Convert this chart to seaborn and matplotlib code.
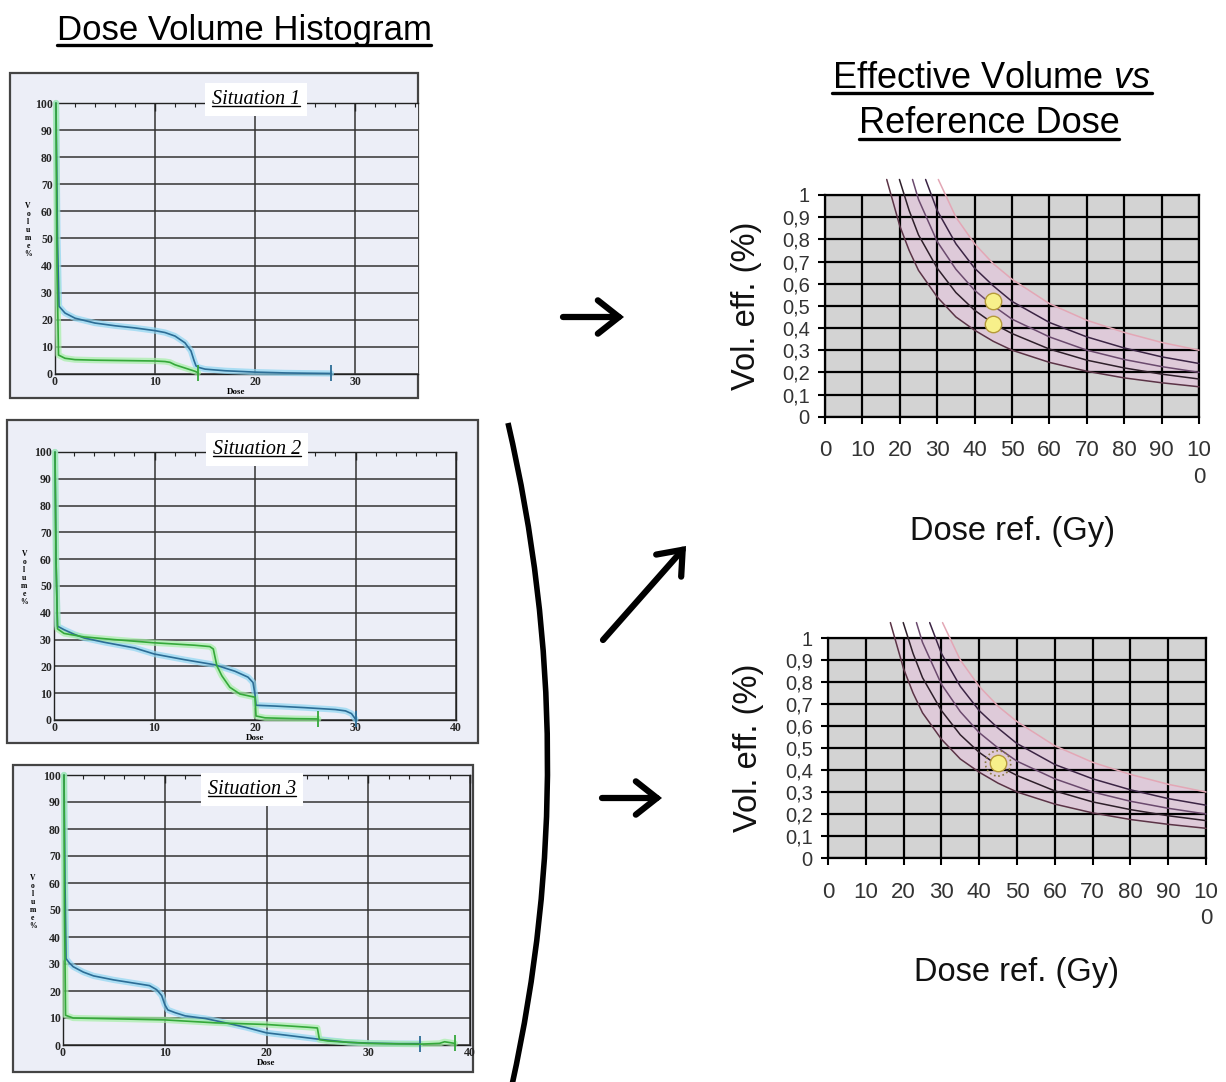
import numpy as np
import matplotlib
matplotlib.use("Agg")
import matplotlib.pyplot as plt
import seaborn as sns
from matplotlib.patches import Rectangle, FancyArrowPatch, PathPatch
from matplotlib.path import Path
from matplotlib.lines import Line2D
from matplotlib.ticker import MultipleLocator

W, H = 1226, 1082

# DVH curves, dose (Gy) vs volume (%)
s1_blue_dose = [0.1, 0.25, 0.4, 1, 2, 4, 6, 8, 10, 11, 12, 13, 13.6, 13.9, 14.1, 14.4, 15, 17, 20, 23, 25, 27.6]
s1_blue_vol = [100, 50, 25, 22.5, 20.6, 18.8, 17.8, 17.0, 16.0, 15.3, 14.0, 11.5, 8.5, 5.0, 3.0, 2.4, 1.8, 1.2, 0.7, 0.4, 0.3, 0.2]
s1_green_dose = [0.1, 0.2, 0.35, 1, 2, 4, 6, 8, 10, 11, 11.5, 12, 13, 14, 14.3]
s1_green_vol = [100, 40, 7.0, 5.8, 5.3, 5.1, 5.0, 4.9, 4.8, 4.6, 4.3, 3.4, 2.2, 1.0, 0.5]

s2_blue_dose = [0.1, 0.2, 0.35, 1, 2, 3, 5, 8, 10, 13, 16, 18, 19.3, 19.8, 20, 20.1, 22, 25, 28, 29, 29.6, 30]
s2_blue_vol = [100, 60, 35, 33.7, 32, 30.6, 29, 26.9, 24.6, 22.5, 20.6, 18.2, 16, 14, 9.5, 5.5, 5.2, 4.6, 3.9, 3.4, 2.4, 0.3]
s2_green_dose = [0.1, 0.2, 0.35, 1, 3, 6, 10, 14, 15.5, 15.85, 16.2, 16.7, 17.5, 18.5, 20, 20.1, 21, 24, 26.3]
s2_green_vol = [100, 60, 34, 32.3, 31, 30, 28.8, 27.9, 27.4, 26.5, 20.3, 16.5, 12.2, 9.7, 8.5, 1.5, 0.8, 0.5, 0.4]

s3_blue_dose = [0.1, 0.2, 0.3, 0.6, 1, 2, 3, 5, 7, 8.5, 9.2, 9.7, 10, 10.3, 11, 12, 14, 16, 18, 20, 22, 25, 28, 30, 33, 35.1]
s3_blue_vol = [100, 60, 32, 30.5, 29, 27, 25.6, 24.1, 22.9, 22, 20.5, 18.3, 15, 13, 12, 10.8, 9.8, 8.2, 6.5, 4.5, 3.6, 2.2, 1.0, 0.7, 0.5, 0.5]
s3_green_dose = [0.1, 0.15, 0.25, 1, 5, 10, 15, 20, 24, 25, 25.2, 26, 28, 30, 33, 35, 37, 37.5, 38.5]
s3_green_vol = [100, 50, 11, 10, 9.7, 9.3, 8.2, 7.6, 6.6, 6.3, 2.0, 1.5, 1.0, 0.6, 0.4, 0.3, 0.6, 1.2, 0.6]

# iso-curves, reference dose (Gy) vs effective volume
c1_dose = [16.5, 20, 22.5, 25, 30, 35, 40, 45, 50, 60, 70, 80, 90, 100]
c1_vol = [1.07, 0.86, 0.75, 0.66, 0.54, 0.45, 0.39, 0.34, 0.30, 0.245, 0.205, 0.175, 0.153, 0.135]
c2_dose = [19.9, 22.5, 25, 30, 35, 40, 45, 50, 60, 70, 80, 90, 100]
c2_vol = [1.07, 0.93, 0.82, 0.67, 0.56, 0.48, 0.42, 0.375, 0.305, 0.255, 0.22, 0.192, 0.17]
c3_dose = [23.4, 25, 30, 35, 40, 45, 50, 60, 70, 80, 90, 100]
c3_vol = [1.07, 0.98, 0.79, 0.665, 0.57, 0.50, 0.44, 0.36, 0.30, 0.258, 0.226, 0.20]
c4_dose = [26.9, 30, 35, 40, 45, 50, 60, 70, 80, 90, 100]
c4_vol = [1.07, 0.93, 0.78, 0.67, 0.59, 0.52, 0.425, 0.36, 0.31, 0.27, 0.24]
c5_dose = [30.3, 35, 40, 45, 50, 60, 70, 80, 90, 100]
c5_vol = [1.07, 0.90, 0.78, 0.69, 0.62, 0.51, 0.435, 0.38, 0.335, 0.30]
curve_colors = ["#5b3346", "#2e1f2a", "#6b4a6e", "#3b2444", "#e3a7b5"]

top_pts_dose = [45, 45]
top_pts_vol = [0.52, 0.42]
bot_pts_dose = [45]
bot_pts_vol = [0.43]

x_ticks = [0, 10, 20, 30, 40, 50, 60, 70, 80, 90, 100]
x_tick_labels = ["0", "10", "20", "30", "40", "50", "60", "70", "80", "90", "10\n0"]
y_ticks = [0, 0.1, 0.2, 0.3, 0.4, 0.5, 0.6, 0.7, 0.8, 0.9, 1]
y_tick_labels = ["0", "0,1", "0,2", "0,3", "0,4", "0,5", "0,6", "0,7", "0,8", "0,9", "1"]

sns.set_style("white")
plt.rcParams['font.family'] = ['Liberation Sans', 'DejaVu Sans']
plt.rcParams['text.color'] = 'black'
plt.rcParams['axes.labelcolor'] = 'black'
plt.rcParams['mathtext.fontset'] = 'custom'
plt.rcParams['mathtext.rm'] = 'Liberation Sans'
plt.rcParams['mathtext.it'] = 'Liberation Sans:italic'
serif = ['Liberation Serif', 'DejaVu Serif']

fig = plt.figure(figsize=(W / 100, H / 100), dpi=100)


def fx(px):
    return px / W


def fy(py):
    return 1 - py / H


def rect_px(x0, top, x1, bottom):
    return [fx(x0), fy(bottom), (x1 - x0) / W, (bottom - top) / H]


panel_bg = "#eceef7"
blue, blue_glow = "#2c6d96", "#8fd6f2"
green, green_glow = "#35a83a", "#a6eea6"
situation_texts = []


def dvh_panel(frame, ax_rect, xmax, curves, title, tx, ty, right_spine=True):
    fig.add_artist(Rectangle((fx(frame[0]), fy(frame[3])), (frame[2] - frame[0]) / W,
                             (frame[3] - frame[1]) / H, transform=fig.transFigure,
                             facecolor=panel_bg, edgecolor="#444", lw=1.6, zorder=-1))
    ax = fig.add_axes(ax_rect)
    ax.set_facecolor(panel_bg)
    for dose, vol, col, glow in curves:
        sns.lineplot(x=dose, y=vol, ax=ax, color=glow, lw=4.5, alpha=0.7,
                     estimator=None, sort=False, zorder=3, clip_on=False)
        sns.lineplot(x=dose, y=vol, ax=ax, color=col, lw=1.2,
                     estimator=None, sort=False, zorder=4, clip_on=False)
        ax.plot(dose[-1:], vol[-1:], marker='|', ms=11, mew=1.3, color=col, zorder=4,
                clip_on=False)
    ax.set_xlim(0, xmax)
    ax.set_ylim(0, 100)
    ax.set_xticks([t for t in [0, 10, 20, 30, 40] if t <= xmax],
                  labels=[str(t) for t in [0, 10, 20, 30, 40] if t <= xmax],
                  family=serif, fontweight='bold', fontsize=8.5)
    ax.set_yticks(list(range(0, 101, 10)), labels=[str(t) for t in range(0, 101, 10)],
                  family=serif, fontweight='bold', fontsize=8.5)
    ax.xaxis.set_minor_locator(MultipleLocator(2))
    ax.yaxis.set_minor_locator(MultipleLocator(2))
    ax.tick_params(which='both', direction='in', top=True, color='#222', pad=1.5)
    ax.tick_params(which='major', length=6, width=1)
    ax.tick_params(which='minor', length=3, width=0.8)
    ax.grid(True, which='major', color='#333', lw=1.1)
    for s in ax.spines.values():
        s.set_color('#222')
        s.set_linewidth(1)
    ax.spines['right'].set_visible(right_spine)
    ax.set_xlabel("Dose", family=serif, fontweight='bold', fontsize=6.5, labelpad=0)
    ax.set_ylabel("V\no\nl\nu\nm\ne\n%", rotation=0, family=serif, fontweight='bold',
                  fontsize=5.5, linespacing=1.0, va='center', ha='center')
    ax.yaxis.set_label_coords(-0.074, 0.53)
    t = ax.text(tx, ty, title, ha='center', va='baseline', fontsize=14.5,
                fontstyle='italic', family=serif, zorder=6, clip_on=False,
                bbox=dict(boxstyle='square,pad=0.35', fc='white', ec='none'))
    situation_texts.append(t)
    return ax


dvh_panel((10, 73, 418, 398), rect_px(55, 103, 418, 374), 36.3,
          [(s1_blue_dose, s1_blue_vol, blue, blue_glow),
           (s1_green_dose, s1_green_vol, green, green_glow)],
          "Situation 1", 20.1, 99.6, right_spine=False)
dvh_panel((7, 420, 478, 743), rect_px(54, 452, 456, 720), 40,
          [(s2_blue_dose, s2_blue_vol, blue, blue_glow),
           (s2_green_dose, s2_green_vol, green, green_glow)],
          "Situation 2", 20.2, 99.3)
dvh_panel((13, 765, 473, 1072), rect_px(63, 775, 470, 1045), 40,
          [(s3_blue_dose, s3_blue_vol, blue, blue_glow),
           (s3_green_dose, s3_green_vol, green, green_glow)],
          "Situation 3", 18.6, 93.0)


def eff_panel(ax_rect, pts_dose, pts_vol, ring=False):
    ax = fig.add_axes(ax_rect)
    ax.set_facecolor("#d3d3d3")
    ax.fill(np.r_[c1_dose, c5_dose[::-1]], np.r_[c1_vol, c5_vol[::-1]],
            color="#e9c3e0", alpha=0.5, lw=0, zorder=0.3)
    curves = [(c1_dose, c1_vol), (c2_dose, c2_vol), (c3_dose, c3_vol),
              (c4_dose, c4_vol), (c5_dose, c5_vol)]
    for (d, v), col in zip(curves, curve_colors):
        sns.lineplot(x=d, y=v, ax=ax, color=col, lw=1.1, estimator=None,
                     sort=False, clip_on=False, zorder=3)
    if ring:
        ax.scatter(pts_dose, pts_vol, s=330, facecolors='none', edgecolors='#8a7a40',
                   linestyles=':', lw=1.2, zorder=5)
    sns.scatterplot(x=pts_dose, y=pts_vol, ax=ax, s=140, color="#f7f08a",
                    edgecolor="#b59a3a", linewidth=1, zorder=6)
    ax.set_xlim(0, 100)
    ax.set_ylim(0, 1)
    ax.set_axisbelow(True)
    ax.grid(True, color='black', lw=1.6)
    for s in ax.spines.values():
        s.set_color('black')
        s.set_linewidth(1.6)
    ax.set_xticks(x_ticks, labels=x_tick_labels, fontsize=16,
                  color='#333', linespacing=1.35)
    ax.set_yticks(y_ticks, labels=y_tick_labels, fontsize=14.5, color='#333')
    ax.tick_params(axis='both', direction='out', length=5, width=1.5, color='black')
    ax.tick_params(axis='x', bottom=True, pad=12)
    ax.tick_params(axis='y', left=True, pad=6)
    ax.set_ylabel("Vol. eff. (%)", fontsize=23.5, color='#111')
    ax.yaxis.set_label_coords(-0.168, 0.5)
    ax.set_xlabel("Dose ref. (Gy)", fontsize=23.5, color='#111')
    ax.xaxis.set_label_coords(0.5, -0.45)
    return ax


eff_panel(rect_px(825, 195, 1199, 416.7), top_pts_dose, top_pts_vol)
eff_panel(rect_px(828, 638, 1206, 858), bot_pts_dose, bot_pts_vol, ring=True)

# titles
t_left = fig.text(fx(244), fy(40), "Dose Volume Histogram", ha='center', va='baseline',
                  fontsize=25, color='black')
t_r1 = fig.text(fx(992), fy(88), r"Effective Volume $\mathit{vs}$ ", ha='center',
                va='baseline', fontsize=26, color='black')
t_r2 = fig.text(fx(989), fy(133), "Reference Dose", ha='center', va='baseline',
                fontsize=26, color='black')

# arrows and bracket
for a, b in [((563, 317), (624, 317)), ((603, 640), (686, 546)), ((602, 798), (662, 798))]:
    fig.add_artist(FancyArrowPatch((fx(a[0]), fy(a[1])), (fx(b[0]), fy(b[1])),
                                   transform=fig.transFigure,
                                   arrowstyle='->,head_length=0.38,head_width=0.3',
                                   mutation_scale=40, lw=4.5, color='black',
                                   shrinkA=0, shrinkB=0, joinstyle='miter'))
bracket = Path([(fx(508), fy(423)), (fx(585), fy(755)), (fx(512), fy(1085))],
               [Path.MOVETO, Path.CURVE3, Path.CURVE3])
fig.add_artist(PathPatch(bracket, transform=fig.transFigure, fc='none', ec='black', lw=4))

fig.canvas.draw()
renderer = fig.canvas.get_renderer()


def underline(t, gap, lw):
    bb = t.get_window_extent(renderer)
    _, yb = t.get_transform().transform(t.get_position())
    pts = fig.transFigure.inverted().transform([(bb.x0, yb - gap), (bb.x1, yb - gap)])
    fig.add_artist(Line2D(pts[:, 0], pts[:, 1], transform=fig.transFigure,
                          color='black', lw=lw, zorder=10))


underline(t_left, 5, 2.4)
underline(t_r1, 5, 2.4)
underline(t_r2, 6, 2.4)
for t in situation_texts:
    underline(t, 2, 1.0)

fig.savefig("out.png", dpi=100, facecolor='white')
